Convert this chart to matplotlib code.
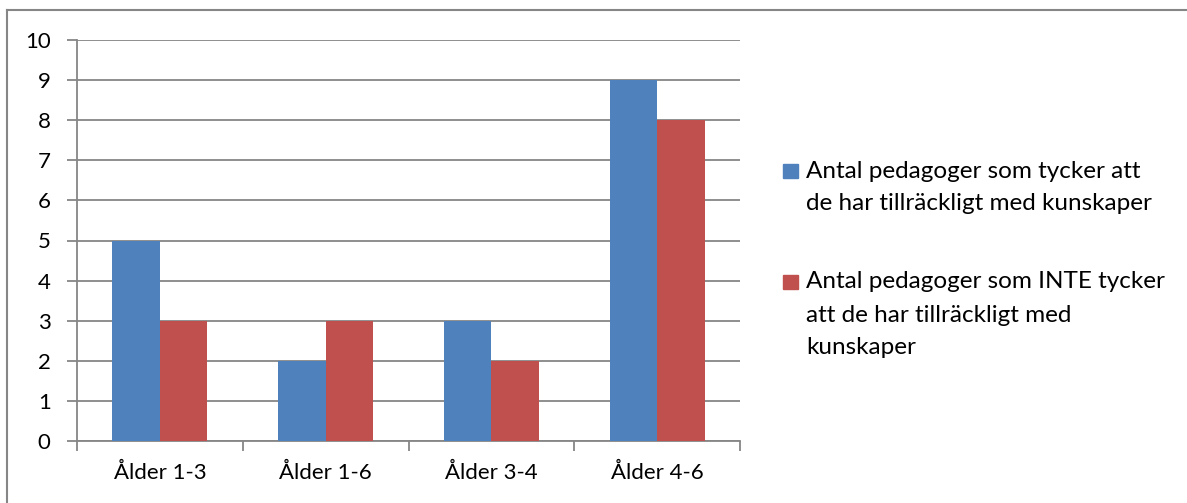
import numpy as np
import matplotlib.pyplot as plt
from matplotlib.patches import Rectangle
from matplotlib.lines import Line2D

plt.rcParams['font.family'] = ['Lato', 'DejaVu Sans']

categories = ["Ålder 1-3", "Ålder 1-6", "Ålder 3-4", "Ålder 4-6"]
har_kunskap = [5, 2, 3, 9]
inte_kunskap = [3, 3, 2, 8]
labels = ["Antal pedagoger som tycker att\nde har tillräckligt med kunskaper",
          "Antal pedagoger som INTE tycker\natt de har tillräckligt med\nkunskaper"]
colors = ["#4F81BD", "#C0504D"]
grid_col = "#868686"

W, H = 1187, 503
fig = plt.figure(figsize=(W / 100, H / 100), dpi=100)
ax = fig.add_axes([77 / W, 1 - 441 / H, (740 - 77) / W, (441 - 40) / H])

x = np.arange(len(categories))
bw = 0.286
ax.bar(x - bw / 2, har_kunskap, bw, color=colors[0], zorder=3)
ax.bar(x + bw / 2, inte_kunskap, bw, color=colors[1], zorder=3)

ax.set_xlim(-0.5, len(categories) - 0.5)
ax.set_ylim(0, 10)
ax.set_yticks(range(0, 11))
ax.yaxis.grid(True, color=grid_col, linewidth=1.3, zorder=0)
ax.set_xticks(x)
ax.set_xticklabels(categories)
ax.set_xticks(np.arange(-0.5, len(categories)), minor=True)
ax.tick_params(axis='x', which='major', length=0, labelsize=16, pad=16)
ax.tick_params(axis='x', which='minor', length=7, width=1.3, color=grid_col)
ax.tick_params(axis='y', length=7, width=1.3, color=grid_col, labelsize=16, pad=12)
for s in ['top', 'right']:
    ax.spines[s].set_visible(False)
for s in ['left', 'bottom']:
    ax.spines[s].set_color(grid_col)
    ax.spines[s].set_linewidth(1.3)

# legend drawn by hand so the swatch sits on the first text line
leg_base = [177.5, 288.5]
line_gap = 33
for col, lab, yy in zip(colors, labels, leg_base):
    fig.patches.append(Rectangle((783 / W, 1 - yy / H), 15 / W, 14 / H,
                                 transform=fig.transFigure, color=col))
    for i, line in enumerate(lab.split("\n")):
        fig.text(806 / W, 1 - (yy + i * line_gap) / H, line, fontsize=17.5,
                 va='baseline', ha='left')

# chart border
fig.add_artist(Line2D([7 / W, 7 / W], [0, 1 - 10 / H], color=grid_col, lw=1.5,
                      transform=fig.transFigure))
fig.add_artist(Line2D([7 / W, 1], [1 - 10 / H, 1 - 10 / H], color=grid_col, lw=1.5,
                      transform=fig.transFigure))

fig.savefig("out.png", dpi=100)
